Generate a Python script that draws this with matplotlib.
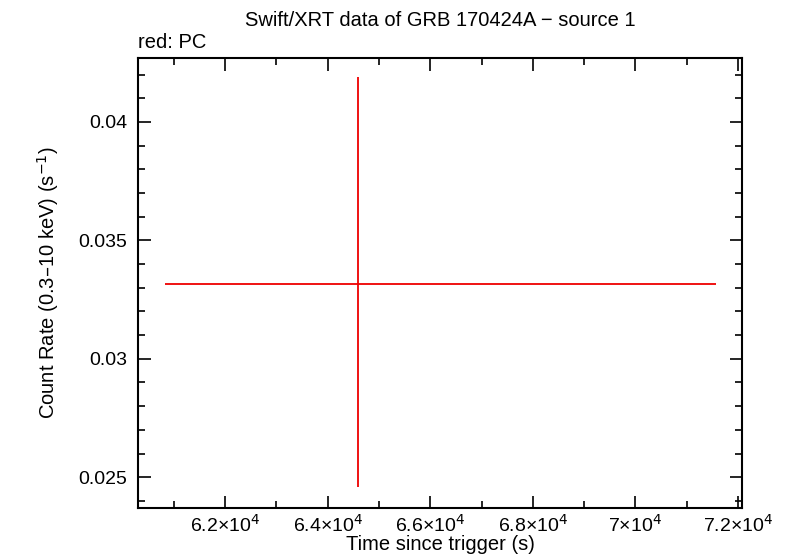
import matplotlib
matplotlib.use("Agg")
import matplotlib.pyplot as plt
from matplotlib.ticker import MultipleLocator, FuncFormatter

plt.rcParams['font.family'] = ['Liberation Sans', 'DejaVu Sans']

# Data (PC mode)
t = [64585]
t_err_lo = [64585 - 60829]
t_err_hi = [71571 - 64585]
rate = [0.03316]
rate_err_lo = [0.03316 - 0.02458]
rate_err_hi = [0.04190 - 0.03316]

xlim = (60302, 72078)
ylim = (0.0237, 0.0427)

fig = plt.figure(figsize=(7.86, 5.58), dpi=100)
ax = fig.add_axes([138/786, 1 - 508/558, (742 - 138)/786, (508 - 58)/558])

ax.errorbar(t, rate, xerr=[t_err_lo, t_err_hi], yerr=[rate_err_lo, rate_err_hi],
            fmt='none', ecolor='#ee0000', elinewidth=1.3, capsize=0)

ax.set_xlim(*xlim)
ax.set_ylim(*ylim)

ax.xaxis.set_major_locator(MultipleLocator(2000))
ax.xaxis.set_minor_locator(MultipleLocator(1000))
ax.yaxis.set_major_locator(MultipleLocator(0.005))
ax.yaxis.set_minor_locator(MultipleLocator(0.001))

ax.xaxis.set_major_formatter(FuncFormatter(lambda v, p: '%s×10$^{4}$' % ('%g' % (v / 1e4))))
ax.yaxis.set_major_formatter(FuncFormatter(lambda v, p: '%g' % v))

ax.tick_params(which='both', direction='in', top=True, right=True, labelsize=14, width=1.2)
ax.tick_params(axis='x', pad=4)
ax.tick_params(axis='y', pad=8)
ax.tick_params(which='major', length=9)
ax.tick_params(which='minor', length=5)
for s in ax.spines.values():
    s.set_linewidth(1.5)

ax.set_xlabel('Time since trigger (s)', fontsize=14.5, labelpad=0)
ax.set_ylabel('Count Rate (0.3\u201310 keV) (s$^{-1}$)', fontsize=14.5, labelpad=12)
fig.text(0.5 + (138+742-786)/2/786, 1 - 20/558, 'Swift/XRT data of GRB 170424A \u2212 source 1',
         ha='center', va='center', fontsize=14.5)
fig.text(138/786, 1 - 43/558, 'red: PC', ha='left', va='center', fontsize=14.5)

fig.savefig('out.png', dpi=100)
